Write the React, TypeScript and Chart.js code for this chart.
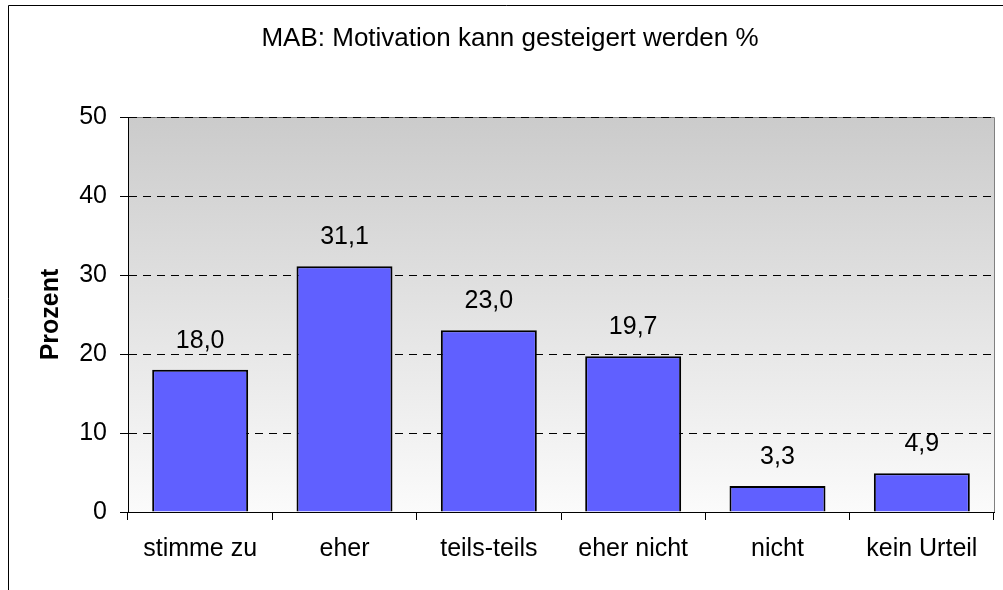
import React, { useEffect, useRef } from "react";
import { Chart, registerables } from "chart.js";

Chart.register(...registerables);

const categories = ["stimme zu", "eher", "teils-teils", "eher nicht", "nicht", "kein Urteil"];
const values = [18.0, 31.1, 23.0, 19.7, 3.3, 4.9];
const yTicks = [0, 10, 20, 30, 40, 50];
const titleText = "MAB: Motivation kann gesteigert werden %";
const yTitle = "Prozent";

const FONT = "'Liberation Sans', Arial, sans-serif";

const decor = {
  id: "decor",
  beforeDraw(chart: any) {
    const { ctx, chartArea } = chart;
    const { left, top, right, bottom } = chartArea;
    ctx.save();
    const g = ctx.createLinearGradient(0, top, 0, bottom);
    g.addColorStop(0, "#cbcbcb");
    g.addColorStop(1, "#fbfbfb");
    ctx.fillStyle = g;
    ctx.fillRect(left, top, right - left, bottom - top);
    ctx.strokeStyle = "#808080";
    ctx.lineWidth = 1;
    ctx.beginPath();
    ctx.moveTo(left, Math.round(top) + 0.5);
    ctx.lineTo(Math.round(right) + 0.5, Math.round(top) + 0.5);
    ctx.lineTo(Math.round(right) + 0.5, bottom);
    ctx.stroke();
    ctx.restore();
  },
  afterDraw(chart: any) {
    const { ctx } = chart;
    ctx.save();
    ctx.strokeStyle = "#000";
    ctx.lineWidth = 1;
    ctx.beginPath();
    ctx.moveTo(8.5, 600);
    ctx.lineTo(8.5, 5.5);
    ctx.lineTo(1010, 5.5);
    ctx.stroke();
    ctx.restore();
  },
  afterDatasetsDraw(chart: any) {
    const { ctx } = chart;
    const meta = chart.getDatasetMeta(0);
    ctx.save();
    ctx.fillStyle = "#000";
    ctx.font = `25px ${FONT}`;
    ctx.textAlign = "center";
    ctx.textBaseline = "alphabetic";
    meta.data.forEach((el: any, i: number) => {
      const txt = values[i].toFixed(1).replace(".", ",");
      ctx.fillText(txt, el.x, el.y - 22);
    });
    ctx.restore();
  },
};

export default function App() {
  const ref = useRef<HTMLCanvasElement>(null);
  useEffect(() => {
    if (!ref.current) return;
    const chart = new Chart(ref.current, {
      type: "bar",
      data: {
        labels: categories,
        datasets: [
          {
            data: values,
            backgroundColor: "#6060ff",
            borderColor: "#000000",
            borderWidth: 2,
            categoryPercentage: 1,
            barPercentage: 0.665,
          },
        ],
      },
      options: {
        responsive: false,
        animation: false,
        devicePixelRatio: 1,
        layout: { padding: { left: 26, right: 9, top: 0, bottom: 0 } },
        plugins: {
          legend: { display: false },
          tooltip: { enabled: false },
          title: {
            display: true,
            text: titleText,
            color: "#000",
            font: { family: FONT, size: 26, weight: "normal" },
            padding: { top: 23, bottom: 62.8 },
          },
        },
        scales: {
          x: {
            grid: {
              offset: true,
              drawOnChartArea: false,
              drawTicks: true,
              tickLength: 8,
              color: "#000",
            },
            border: { color: "#000", width: 1 },
            ticks: {
              color: "#000",
              font: { family: FONT, size: 25 },
              padding: 14,
              maxRotation: 0,
              autoSkip: false,
            },
            afterFit(scale: any) {
              scale.height = 78;
            },
          },
          y: {
            min: 0,
            max: 50,
            afterBuildTicks(scale: any) {
              scale.ticks = yTicks.map((v) => ({ value: v }));
            },
            grid: {
              color: "#000",
              tickLength: 8,
              tickBorderDash: [],
              tickColor: "#000",
            },
            border: { color: "#000", width: 1, dash: [8, 6] },
            ticks: {
              color: "#000",
              font: { family: FONT, size: 25 },
              padding: 13,
            },
            title: {
              display: true,
              text: yTitle,
              color: "#000",
              font: { family: FONT, size: 25, weight: "bold" },
              padding: { top: 10, bottom: 0 },
            },
            afterFit(scale: any) {
              scale.width = 102;
            },
          },
        },
      },
      plugins: [decor],
    });
    return () => chart.destroy();
  }, []);
  return (
    <div style={{ position: "absolute", left: 0, top: 0, width: 1003, height: 590, background: "#fff" }}>
      <canvas ref={ref} width={1003} height={590} style={{ display: "block" }} />
    </div>
  );
}
